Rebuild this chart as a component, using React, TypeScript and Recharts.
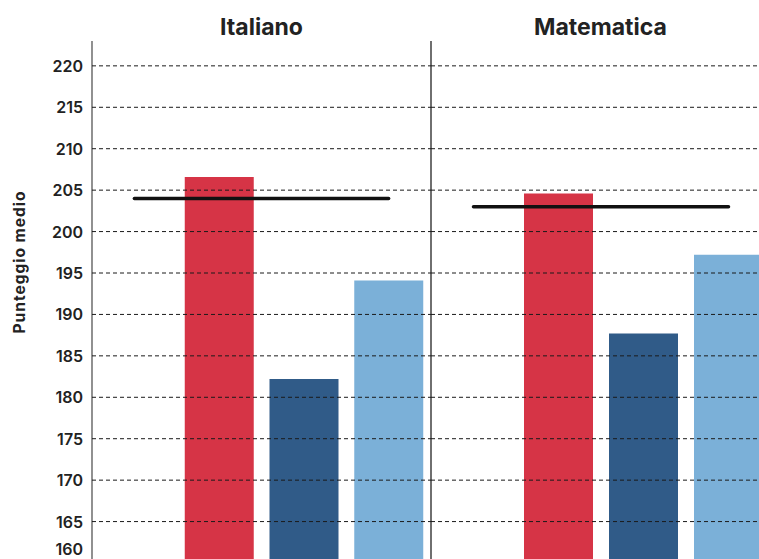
import {
  Bar,
  Cell,
  ComposedChart,
  Line,
  ReferenceLine,
  XAxis,
  YAxis,
} from "recharts";

// categories: the first band only carries the mean line
const groups = ["Media", "Gruppo A", "Gruppo B", "Gruppo C"];
const barColors = ["#ffffff", "#d63446", "#305b88", "#7bb0d8"];

const italianoScores = [null, 206.6, 182.2, 194.1];
const matematicaScores = [null, 204.6, 187.7, 197.2];
const italianoMean = 204;
const matematicaMean = 203;

const yTicks = [160, 165, 170, 175, 180, 185, 190, 195, 200, 205, 210, 215, 220];
const yDomain = [160, 223];

const FONT = "Inter, 'Noto Sans', sans-serif";

function buildRows(scores: (number | null)[], mean: number) {
  return groups.map((group, i) => ({ group, score: scores[i], mean }));
}

function ScoreTick(props: any) {
  const { x, y, payload } = props;
  return (
    <text
      x={x}
      y={Math.min(y, 549)}
      dy={6}
      textAnchor="end"
      fill="#222"
      fontSize={16}
      fontWeight={600}
      fontFamily={FONT}
    >
      {payload.value}
    </text>
  );
}

function AxisTitle() {
  return (
    <text
      transform="translate(19,262) rotate(-90)"
      textAnchor="middle"
      dominantBaseline="central"
      fill="#222"
      fontSize={15.5}
      fontWeight={700}
      letterSpacing={1}
      fontFamily={FONT}
    >
      Punteggio medio
    </text>
  );
}

function Panel({
  scores,
  mean,
  first,
}: {
  scores: (number | null)[];
  mean: number;
  first: boolean;
}) {
  const rows = buildRows(scores, mean);
  return (
    <ComposedChart
      width={first ? 431 : 341}
      height={563}
      data={rows}
      margin={{ top: 41, right: 0, bottom: 0, left: 0 }}
      barCategoryGap={8}
    >
      <XAxis dataKey="group" hide />
      <YAxis
        domain={yDomain}
        ticks={yTicks}
        interval={0}
        width={first ? 92 : 1}
        tick={first ? <ScoreTick /> : false}
        tickLine={false}
        tickMargin={3}
        axisLine={{ stroke: first ? "#555" : "#222", strokeWidth: 1.3 }}
        label={first ? { content: () => <AxisTitle /> } : undefined}
        allowDataOverflow
      />
      <Bar dataKey="score" isAnimationActive={false}>
        {rows.map((row, i) => (
          <Cell key={row.group} fill={barColors[i]} />
        ))}
      </Bar>
      {yTicks.map((v) => (
        <ReferenceLine
          key={v}
          y={v}
          stroke="#1a1a1a"
          strokeWidth={1}
          strokeDasharray="4 3"
          zIndex={600}
        />
      ))}
      <Line
        dataKey="mean"
        stroke="#111"
        strokeWidth={3.5}
        strokeLinecap="round"
        dot={false}
        activeDot={false}
        isAnimationActive={false}
        zIndex={700}
      />
    </ComposedChart>
  );
}

const titleStyle: React.CSSProperties = {
  position: "absolute",
  top: 13,
  width: 339,
  textAlign: "center",
  fontFamily: FONT,
  fontSize: 23,
  fontWeight: 700,
  lineHeight: "28px",
  color: "#222",
};

export default function App() {
  return (
    <div
      style={{
        position: "fixed",
        left: 0,
        top: 0,
        width: 759,
        height: 559,
        overflow: "hidden",
        background: "#fff",
      }}
    >
      <div style={{ ...titleStyle, left: 92 }}>Italiano</div>
      <div style={{ ...titleStyle, left: 431 }}>Matematica</div>
      <div style={{ position: "absolute", left: 0, top: 0 }}>
        <Panel scores={italianoScores} mean={italianoMean} first />
      </div>
      <div style={{ position: "absolute", left: 430, top: 0 }}>
        <Panel scores={matematicaScores} mean={matematicaMean} first={false} />
      </div>
    </div>
  );
}
